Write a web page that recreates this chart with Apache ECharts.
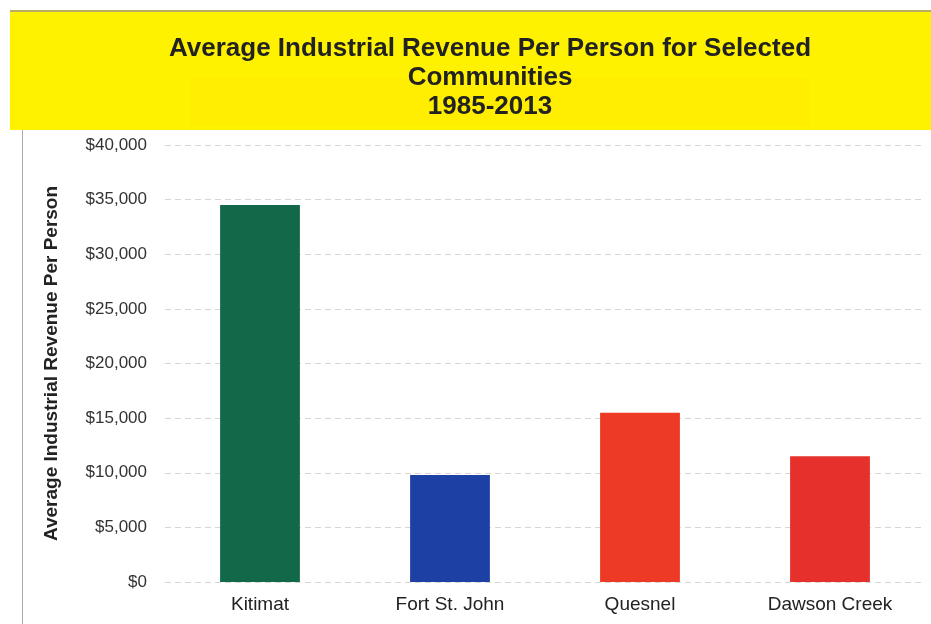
<!DOCTYPE html>
<html>
<head>
<meta charset="utf-8">
<script src="https://cdn.jsdelivr.net/npm/echarts@6/dist/echarts.min.js"></script>
<style>html,body{margin:0;padding:0;background:#fff;}#c{width:931px;height:624px;}</style>
</head>
<body>
<div id="c"></div>
<script>
const categories = ["Kitimat", "Fort St. John", "Quesnel", "Dawson Creek"];
const values = [34500, 9800, 15500, 11500];
const barColors = ["#11694a", "#1c40a3", "#ec3a25", "#e6302c"];
const titleText = "Average Industrial Revenue Per Person for Selected\nCommunities\n1985-2013";
const yAxisName = "Average Industrial Revenue Per Person";

const chart = echarts.init(document.getElementById('c'));
chart.setOption({
  backgroundColor: '#fff',
  animation: false,
  graphic: [
    { type: 'rect', left: 10, top: 12, shape: { width: 921, height: 118 }, style: { fill: '#fff200' }, z: -10 },
    { type: 'rect', left: 190, top: 78, shape: { width: 620, height: 48 }, style: { fill: '#ffee00' }, z: -9 },
    { type: 'rect', left: 10, top: 10, shape: { width: 921, height: 2 }, style: { fill: '#b8b060' }, z: -8 },
    { type: 'rect', left: 22, top: 130, shape: { width: 1, height: 494 }, style: { fill: '#aaaaaa' }, z: -8 }
  ],
  title: {
    text: titleText,
    left: 485,
    textAlign: 'center',
    top: 29,
    textStyle: { fontFamily: 'Liberation Sans', fontWeight: 'bold', fontSize: 26, color: '#222', lineHeight: 29 }
  },
  grid: { left: 165, right: 6, top: 145, bottom: 42 },
  xAxis: {
    type: 'category',
    data: categories,
    axisLine: { show: false },
    axisTick: { show: false },
    axisLabel: { fontFamily: 'Liberation Sans', fontSize: 19, color: '#222', margin: 13 }
  },
  yAxis: {
    type: 'value',
    min: 0, max: 40000, interval: 5000,
    name: yAxisName,
    nameLocation: 'middle',
    nameGap: 104,
    nameTextStyle: { fontFamily: 'Liberation Sans', fontWeight: 'bold', fontSize: 19, color: '#222' },
    axisLine: { show: false },
    axisTick: { show: false },
    axisLabel: {
      fontFamily: 'Liberation Sans', fontSize: 17, color: '#333', margin: 18,
      formatter: v => '$' + v.toLocaleString('en-US')
    },
    splitLine: { lineStyle: { color: '#d6d6d6', type: [6, 4], width: 1 } }
  },
  series: [{
    type: 'bar',
    data: values.map((v, i) => ({ value: v, itemStyle: { color: barColors[i] } })),
    barWidth: '42%'
  }]
});
</script>
</body>
</html>
